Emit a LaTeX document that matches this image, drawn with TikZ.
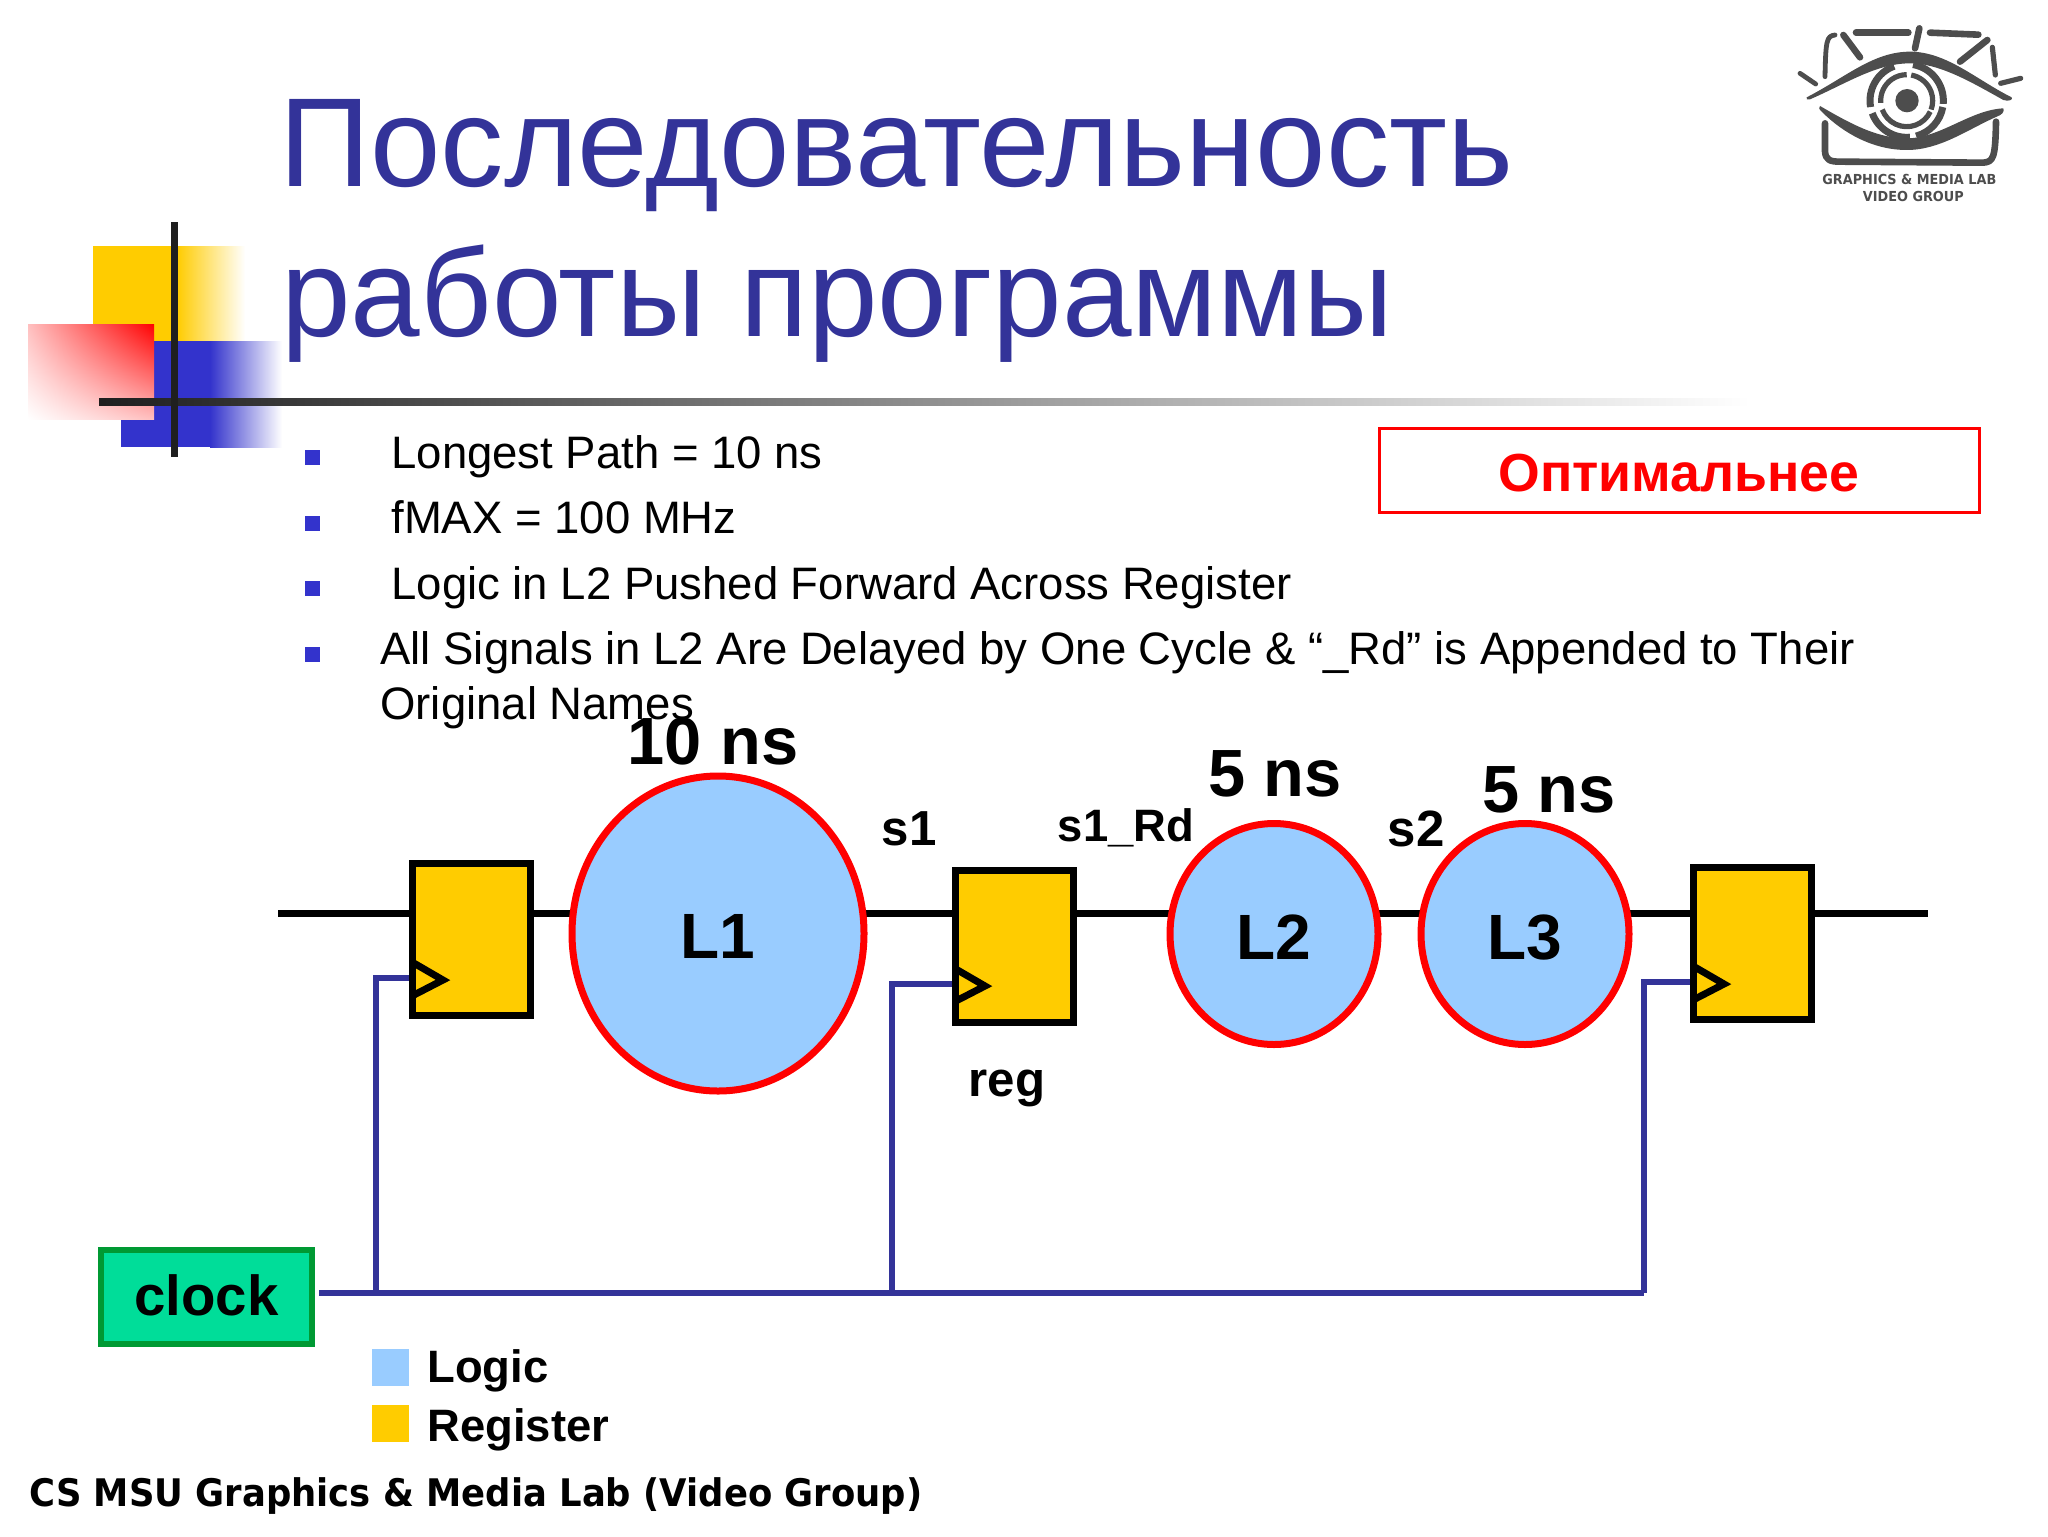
\documentclass[tikz,border=0pt]{standalone}
\usepackage{fontspec}
\setmainfont{Liberation Sans}
\newfontfamily\footfont[FakeStretch=0.932]{DejaVu Sans}
\usepackage{tikz}
\usetikzlibrary{shapes.geometric, backgrounds, shadings}
\usepackage{xcolor}
\definecolor{deckblue}{HTML}{333399}
\definecolor{bulletblue}{HTML}{3333CC}
\definecolor{regyellow}{HTML}{FFCC00}
\definecolor{logicblue}{HTML}{99CCFF}
\definecolor{clockgreen}{HTML}{00DD99}
\definecolor{clockedge}{HTML}{009933}
\definecolor{logogrey}{HTML}{4D4D4D}
\tikzset{
  regbox/.style={draw=black, line width=3.5pt, fill=regyellow, minimum width=59pt, minimum height=76pt, inner sep=0pt},
  logicblob/.style={shape=ellipse, draw=red, line width=3.5pt, fill=logicblue, inner sep=0pt, text depth=0pt, text height=25pt, font=\bfseries\fontsize{32}{32}\selectfont},
  wire/.style={line width=3.5pt, black},
  clkwire/.style={line width=3pt, deckblue},
  pin/.style={line width=3.5pt, black, miter limit=10},
  bold label/.style={inner sep=0.75pt, font=\bfseries\fontsize{24.6}{24.6}\selectfont},
  delay label/.style={inner sep=0.75pt, font=\bfseries\fontsize{33.4}{33.4}\selectfont},
  item text/.style={anchor=base west, inner sep=0pt, align=left, font=\fontsize{22.75}{27.5}\selectfont},
  bullet/.style={fill=bulletblue, inner sep=0pt, minimum size=7.5pt},
  legend text/.style={anchor=west, inner sep=0pt, font=\bfseries\fontsize{22.7}{22.7}\selectfont},
  titleline/.style={anchor=base west, inner sep=0pt, text=deckblue},
  logostroke/.style={line width=3.3pt, logogrey, line cap=round, line join=round},
}
\begin{document}
\begin{tikzpicture}[x=0.5pt,y=0.5pt,yscale=-1,xscale=1]
\useasboundingbox (0,0) rectangle (2048,1536);

%Shape: corner squares
\fill [regyellow] (93,246) rectangle (177,341);
\shade [left color=regyellow, right color=white] (177,246) rectangle (245,341);
\fill [bulletblue] (121,341) rectangle (210,447);
\shade [left color=bulletblue, right color=white] (210,341) rectangle (282,447);
\shade [upper right=red, upper left=red!25, lower right=red!25, lower left=white] (28,324) rectangle (154,419);
%Straight Lines
\shade [left color=black!88, right color=white] (99,398.5) rectangle (1750,405.5);
\fill [black!88] (170.5,222) rectangle (177.5,457);

% Title
\draw (279,186) node (title1) [titleline, font=\fontsize{63.3}{63.3}\selectfont] {Последовательность};
\draw (281,336) node (title2) [titleline, font=\fontsize{62.5}{62.5}\selectfont] {работы программы};

% Bullets
\draw (312.5,457) node (bul1) [bullet] {};
\draw (312.5,523) node (bul2) [bullet] {};
\draw (312.5,588) node (bul3) [bullet] {};
\draw (312.5,654) node (bul4) [bullet] {};
\draw (391,468.5) node (item1) [item text] {Longest Path = 10 ns};
\draw (391,533) node (item2) [item text] {fMAX = 100 MHz};
\draw (391,599.5) node (item3) [item text] {Logic in L2 Pushed Forward Across Register};
\draw (380,719) node (item4) [item text] {All Signals in L2 Are Delayed by One Cycle \& “\_Rd” is Appended to Their\\Original Names};

% Red box
\draw (1679,470.5) node (better) [draw=red, line width=1.5pt, minimum width=300pt, minimum height=42pt, text=red, text depth=0pt, text height=20.5pt, font=\bfseries\fontsize{26.8}{26.8}\selectfont] {Оптимальнее};

% Blocks
\draw (471.5,939.5) node (reg1) [regbox] {};
\draw (1014.5,946) node (reg2) [regbox] {};
\draw (1752,943) node (reg3) [regbox] {};
\draw (718,933.5) node (L1) [logicblob, minimum width=146pt, minimum height=157.5pt] {L1};
\draw (1274,934) node (L2) [logicblob, minimum width=104pt, minimum height=110.5pt] {L2};
\draw (1525,934) node (L3) [logicblob, minimum width=104pt, minimum height=110.5pt] {L3};
\draw (206.5,1297) node (clock) [draw=clockedge, line width=3pt, fill=clockgreen, minimum width=105.5pt, minimum height=47pt, text depth=2pt, font=\bfseries\fontsize{28.2}{28.2}\selectfont] {clock};

\coordinate (wirein) at (278,913);
\coordinate (wireout) at (1928,913);
\coordinate (clk1) at (412,978);
\coordinate (clk2) at (954,984);
\coordinate (clk3) at (1693,982);
\coordinate (tap1) at (376,1293);
\coordinate (tap2) at (892,1293);
\coordinate (tap3) at (1644,1293);

% Wires sit behind the blocks
\begin{scope}[on background layer]
\draw [wire] (wirein) -- (reg1 |- wirein) -- (L1 |- wirein) -- (reg2 |- wirein) -- (L2 |- wirein) -- (L3 |- wirein) -- (reg3 |- wirein) -- (wireout);
\draw [clkwire] ([xshift=2pt]clock.east |- tap1) -- (tap3);
\draw [clkwire] (clk1) -| (tap1);
\draw [clkwire] (clk2) -| (tap2);
\draw [clkwire] (clk3) -| (tap3);
\end{scope}

%Clock pins
\draw [pin] (clk1) ++(0,-16) -- ++(31,18) -- ++(-31,16);
\draw [pin] (clk2) ++(0,-16) -- ++(31,18) -- ++(-31,16);
\draw [pin] (clk3) ++(0,-16) -- ++(31,18) -- ++(-31,16);

% Text Node
\draw (713,741) node (delay1) [delay label] {10 ns};
\draw (1275,774) node (delay2) [delay label] {5 ns};
\draw (1549,790) node (delay3) [delay label] {5 ns};
\draw (909,829) node (sigA) [bold label] {s1};
\draw (1126,828) node (sigB) [bold label, font=\bfseries\fontsize{22.7}{22.7}\selectfont] {s1\_Rd};
\draw (1416,829) node (sigC) [bold label, font=\bfseries\fontsize{25.5}{25.5}\selectfont] {s2};
\draw (1007,1088) node (regname) [bold label] {reg};

% Legend
\draw (390.5,1367) node (keylogic) [fill=logicblue, inner sep=0pt, minimum size=18.5pt] {};
\draw (390.5,1423.5) node (keyreg) [fill=regyellow, inner sep=0pt, minimum size=18.5pt] {};
\draw (427,1371) node (keylogictext) [legend text] {Logic};
\draw (427,1430) node (keyregtext) [legend text] {Register};

% Footer
\draw (29,1496) node (footer) [anchor=west, inner sep=0pt, font=\footfont\bfseries\fontsize{19}{19}\selectfont] {CS MSU Graphics \& Media Lab (Video Group)};

%Logo
\begin{scope}[shift={(1760,10)},scale=1/3]
\draw [logostroke,line width=2.4pt] (225,75) .. controls (200,78) and (197,90) .. (195,200);
\draw [logostroke] (250,75) -- (300,142);
\draw [logostroke] (288,68) -- (445,68);
\draw [logostroke] (478,55) -- (465,115);
\draw [logostroke] (510,68) -- (655,74);
\draw [logostroke] (682,90) -- (600,155);
\draw [logostroke,line width=2.6pt] (697,112) -- (706,195);
\draw [logostroke,line width=2.6pt] (722,220) -- (782,205);
\draw [logostroke,line width=2.4pt] (120,190) -- (167,222);
\draw [logostroke] (195,340) -- (195,425) .. controls (197,450) and (210,455) .. (240,455) -- (670,458) .. controls (700,455) and (706,445) .. (708,335);
%upper lid
\fill [logogrey] (140,262) .. controls (260,200) and (340,125) .. (450,125) .. controls (560,125) and (650,210) .. (755,262) .. controls (760,270) and (745,275) .. (730,270) .. controls (640,220) and (540,160) .. (450,160) .. controls (350,160) and (260,220) .. (150,268) .. controls (142,270) and (136,268) .. (140,262) -- cycle;
%lower lid
\fill [logogrey] (180,288) .. controls (270,340) and (350,385) .. (440,385) .. controls (540,385) and (630,300) .. (730,295) .. controls (735,305) and (725,315) .. (710,320) .. controls (620,360) and (540,420) .. (440,420) .. controls (340,420) and (250,370) .. (185,305) .. controls (176,298) and (176,290) .. (180,288) -- cycle;
%iris
\fill [logogrey] (441,272) circle [radius=35];
\draw [logostroke,line cap=butt,line width=3.5pt] (440,272) ++(170:110) arc [start angle=170, end angle=250, radius=110];
\draw [logostroke,line cap=butt,line width=3.5pt] (440,272) ++(-80:110) arc [start angle=-80, end angle=5, radius=110];
\draw [logostroke,line cap=butt,line width=3.5pt] (440,272) ++(10:110) arc [start angle=10, end angle=75, radius=110];
\draw [logostroke,line cap=butt,line width=3.5pt] (440,272) ++(85:110) arc [start angle=85, end angle=160, radius=110];
\draw [logostroke,line cap=butt,line width=2.6pt] (440,272) ++(175:78) arc [start angle=175, end angle=270, radius=78];
\draw [logostroke,line cap=butt,line width=2.6pt] (440,272) ++(-80:78) arc [start angle=-80, end angle=20, radius=78];
\draw [logostroke,line cap=butt,line width=2.6pt] (440,272) ++(25:78) arc [start angle=25, end angle=160, radius=78];
\draw (448,507) node (logotext1) [inner sep=0pt, text=logogrey, font=\footfont\bfseries\fontsize{6.9}{6.9}\selectfont] {GRAPHICS \& MEDIA LAB};
\draw (460,560) node (logotext2) [inner sep=0pt, text=logogrey, font=\footfont\bfseries\fontsize{6.9}{6.9}\selectfont] {VIDEO GROUP};
\end{scope}
\end{tikzpicture}
\end{document}
